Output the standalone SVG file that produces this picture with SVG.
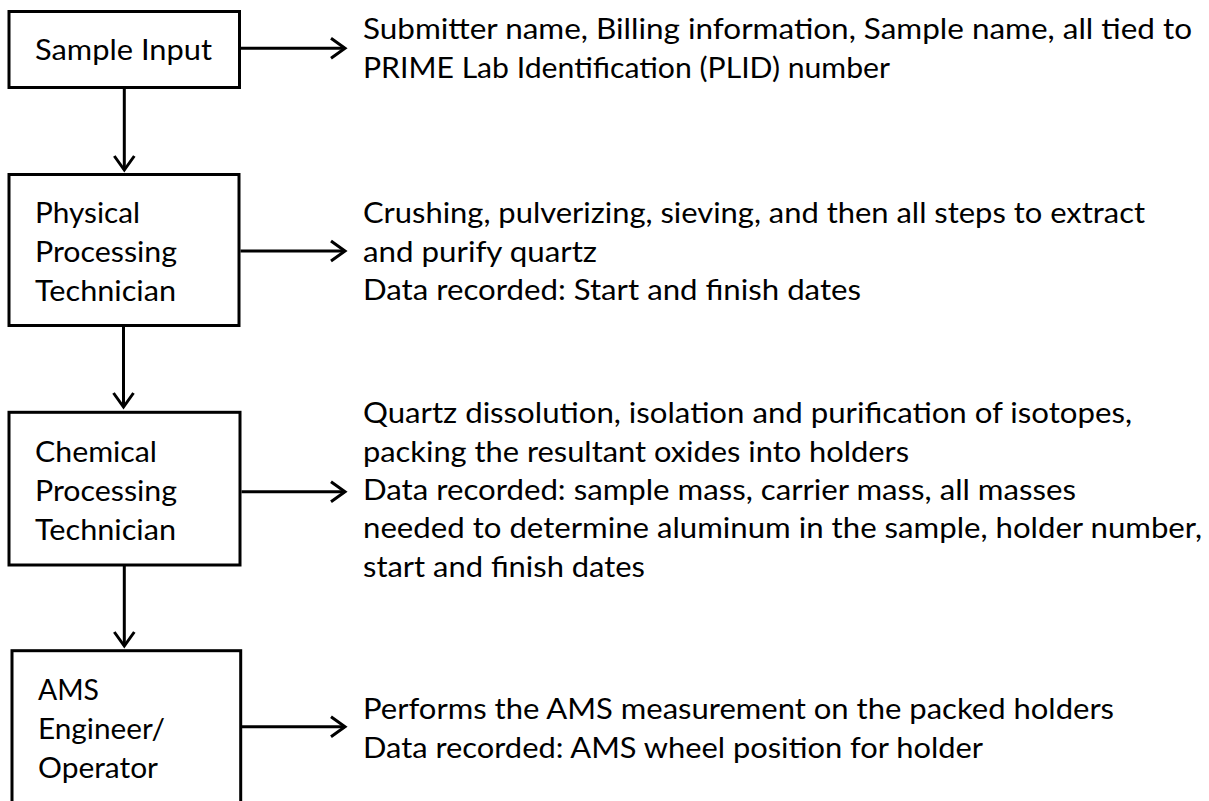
<svg xmlns="http://www.w3.org/2000/svg" width="1209" height="801" viewBox="0 0 1209 801">
  <style>
    .box { fill: #ffffff; stroke: #000000; stroke-width: 3; }
    .lbl { font-family: Lato, "Open Sans", "Liberation Sans", sans-serif; font-size: 29px; fill: #000000; }
    .link { fill: none; stroke: #000000; stroke-width: 3; marker-end: url(#arrow); }
  </style>
  <defs>
    <marker id="arrow" markerUnits="userSpaceOnUse" viewBox="-20 -12 26 24" markerWidth="26" markerHeight="24" refX="-3" refY="0" orient="auto">
      <path d="M-17,-10 L-3,0 L-17,10" fill="none" stroke="#000000" stroke-width="3" stroke-linejoin="miter"/>
    </marker>
  </defs>
  <rect width="1209" height="801" fill="#ffffff"/>

  <!-- process steps -->
  <g id="sample-input">
    <rect class="box" x="9" y="11.5" width="230.5" height="76"/>
    <text class="lbl" x="35" y="60" textLength="177" lengthAdjust="spacingAndGlyphs">Sample Input</text>
  </g>
  <g id="physical-processing">
    <rect class="box" x="9" y="174.5" width="230" height="151"/>
    <text class="lbl" x="35" y="223" textLength="105" lengthAdjust="spacingAndGlyphs">Physical</text>
    <text class="lbl" x="35" y="262" textLength="142" lengthAdjust="spacingAndGlyphs">Processing</text>
    <text class="lbl" x="35" y="301" textLength="141" lengthAdjust="spacingAndGlyphs">Technician</text>
  </g>
  <g id="chemical-processing">
    <rect class="box" x="9" y="412.3" width="231" height="152.7"/>
    <text class="lbl" x="35" y="462" textLength="122" lengthAdjust="spacingAndGlyphs">Chemical</text>
    <text class="lbl" x="35" y="501" textLength="142" lengthAdjust="spacingAndGlyphs">Processing</text>
    <text class="lbl" x="35" y="540" textLength="141" lengthAdjust="spacingAndGlyphs">Technician</text>
  </g>
  <g id="ams-operator">
    <rect class="box" x="12" y="650.7" width="228.7" height="200"/>
    <text class="lbl" x="38" y="700" textLength="61" lengthAdjust="spacingAndGlyphs">AMS</text>
    <text class="lbl" x="38" y="739" textLength="127" lengthAdjust="spacingAndGlyphs">Engineer/</text>
    <text class="lbl" x="38" y="778" textLength="120" lengthAdjust="spacingAndGlyphs">Operator</text>
  </g>

  <!-- descriptions of each step -->
  <g id="sample-input-notes">
    <text class="lbl" x="363" y="39" textLength="829" lengthAdjust="spacingAndGlyphs">Submitter name, Billing information,  Sample name, all tied to</text>
    <text class="lbl" x="363" y="78" textLength="527" lengthAdjust="spacingAndGlyphs">PRIME Lab Identification (PLID) number</text>
  </g>
  <g id="physical-processing-notes">
    <text class="lbl" x="363" y="223" textLength="782" lengthAdjust="spacingAndGlyphs">Crushing, pulverizing, sieving, and then all steps to extract</text>
    <text class="lbl" x="363" y="262" textLength="234" lengthAdjust="spacingAndGlyphs">and purify quartz</text>
    <text class="lbl" x="363" y="300" textLength="498" lengthAdjust="spacingAndGlyphs">Data recorded: Start and finish dates</text>
  </g>
  <g id="chemical-processing-notes">
    <text class="lbl" x="363" y="423" textLength="769" lengthAdjust="spacingAndGlyphs">Quartz dissolution, isolation and purification of isotopes,</text>
    <text class="lbl" x="363" y="462" textLength="546" lengthAdjust="spacingAndGlyphs">packing the resultant oxides into holders</text>
    <text class="lbl" x="363" y="500" textLength="713" lengthAdjust="spacingAndGlyphs">Data recorded: sample mass, carrier mass, all masses</text>
    <text class="lbl" x="363" y="538" textLength="839" lengthAdjust="spacingAndGlyphs">needed to determine aluminum in the sample, holder number,</text>
    <text class="lbl" x="363" y="577" textLength="282" lengthAdjust="spacingAndGlyphs">start and finish dates</text>
  </g>
  <g id="ams-operator-notes">
    <text class="lbl" x="363" y="719" textLength="751" lengthAdjust="spacingAndGlyphs">Performs the AMS measurement on the packed holders</text>
    <text class="lbl" x="363" y="758" textLength="620" lengthAdjust="spacingAndGlyphs">Data recorded: AMS wheel position for holder</text>
  </g>

  <!-- connectors -->
  <g id="connectors">
    <path class="link" d="M124.3,89 L124.3,170"/>
    <path class="link" d="M123.5,326 L123.5,407"/>
    <path class="link" d="M124.3,566 L124.3,646"/>
    <path class="link" d="M241,48.3 L345,48.3"/>
    <path class="link" d="M240.5,251 L345,251"/>
    <path class="link" d="M241.5,491.7 L345,491.7"/>
    <path class="link" d="M241,726.7 L345,726.7"/>
  </g>
</svg>
